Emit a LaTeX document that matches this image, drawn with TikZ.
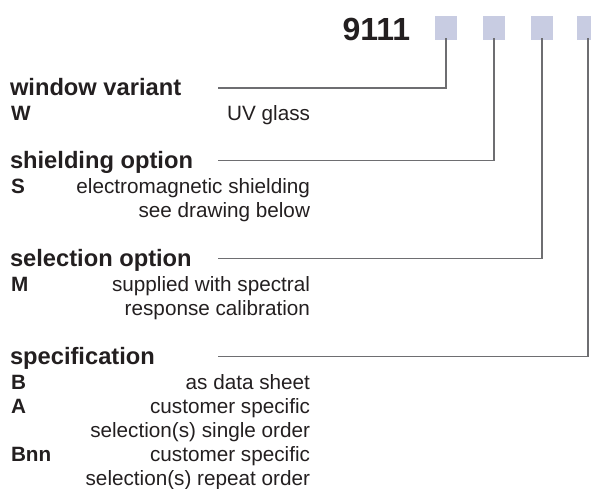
\documentclass[tikz,border=0pt]{standalone}
\usepackage{fontspec}
\setmainfont{Liberation Sans}
\definecolor{txt}{RGB}{35,31,32}
\definecolor{ln}{RGB}{110,110,113}
\definecolor{sq}{RGB}{200,204,226}
\begin{document}
\begin{tikzpicture}[x=1pt,y=-1pt,
  every node/.style={inner sep=0pt,outer sep=0pt,text=txt},
  head/.style={anchor=base west,font=\fontsize{23.7}{28}\selectfont\bfseries},
  key/.style={anchor=base west,font=\fontsize{20.7}{24}\selectfont\bfseries},
  desc/.style={anchor=base east,font=\fontsize{20.7}{24}\selectfont},
  box/.style={fill=sq,minimum width=22pt,minimum height=24pt},
  conn/.style={draw=ln,line width=1.3pt}]
\useasboundingbox (0,0) rectangle (591,488);
\node[anchor=base west,font=\fontsize{32}{38}\selectfont\bfseries] (code) at (342.5,40) {9111};
\node[box] (s1) at (446,28) {};
\node[box] (s2) at (494,28) {};
\node[box] (s3) at (542,28) {};
\node[box] (s4) at (588,28) {};
% window variant
\node[head] (h1) at (10,95.5) {window variant};
\node[key] (k1) at (11,120.5) {W};
\node[desc] (d1) at (310,120.5) {UV glass};
\coordinate (c1) at (218,88);
% shielding
\node[head] (h2) at (10,168) {shielding option};
\node[key] (k2) at (11,193) {S};
\node[desc] (d2a) at (310,193) {electromagnetic shielding};
\node[desc] (d2b) at (310,217) {see drawing below};
\coordinate (c2) at (218,160.5);
% selection
\node[head] (h3) at (10,266) {selection option};
\node[key] (k3) at (11,291) {M};
\node[desc] (d3a) at (310,291) {supplied with spectral};
\node[desc] (d3b) at (310,315) {response calibration};
\coordinate (c3) at (218,258.5);
% specification
\node[head] (h4) at (10,364) {specification};
\node[key] (k4a) at (11,389) {B};
\node[desc] (d4a) at (310,389) {as data sheet};
\node[key] (k4b) at (11,413) {A};
\node[desc] (d4b) at (310,413) {customer specific};
\node[desc] (d4c) at (310,437) {selection(s) single order};
\node[key] (k4c) at (11,461) {Bnn};
\node[desc] (d4d) at (310,461) {customer specific};
\node[desc] (d4e) at (310,485) {selection(s) repeat order};
\coordinate (c4) at (218,356.7);
% connectors
\draw[conn] (c1) -| ([yshift=2pt]s1.south);
\draw[conn] (c2) -| ([yshift=2pt]s2.south);
\draw[conn] (c3) -| ([yshift=2pt]s3.south);
\draw[conn] (c4) -| ([yshift=2pt]s4.south);
\end{tikzpicture}
\end{document}
